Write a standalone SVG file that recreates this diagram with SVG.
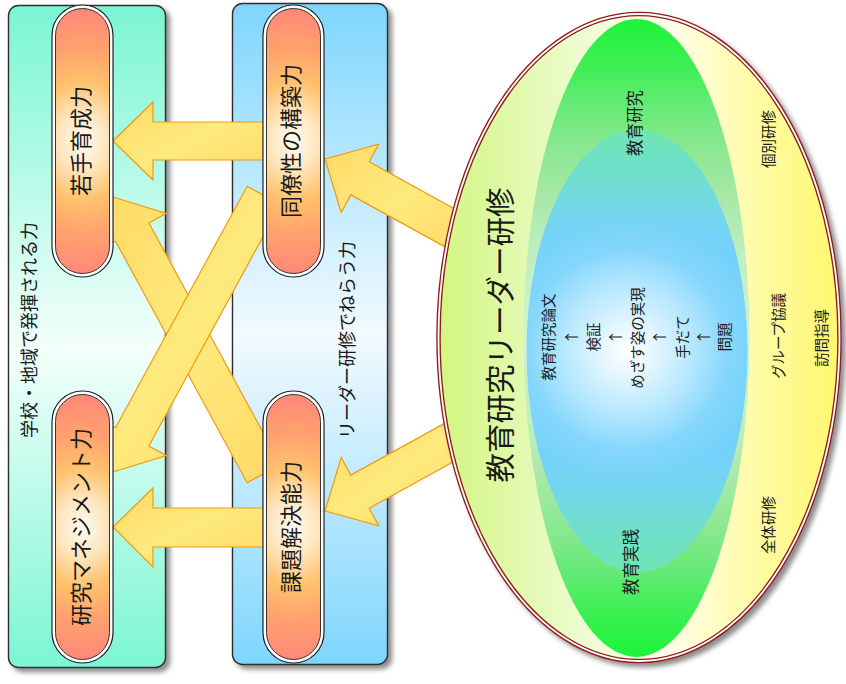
<svg xmlns="http://www.w3.org/2000/svg" width="846" height="684" viewBox="0 0 846 684">
  <defs>
    <style>
      .t { font-family: "Noto Sans CJK JP", "Noto Sans CJK SC", "DejaVu Sans", sans-serif; fill: #1a1a1a; text-anchor: middle; dominant-baseline: central; }
      .panel { stroke: #2e2e2e; stroke-width: 1.4; }
      .pill-ring { fill: #ffffff; stroke: #222; stroke-width: 1.2; }
      .pill-core { fill: url(#pillFill); stroke: #333; stroke-width: 1; }
      .arrow { fill: url(#arrowFill); stroke: #ef9a12; stroke-width: 1.2; stroke-linejoin: miter; }
    </style>

    <filter id="shadow" x="-10%" y="-10%" width="125%" height="125%">
      <feDropShadow dx="4" dy="4" stdDeviation="2.5" flood-color="#000" flood-opacity="0.45"/>
    </filter>

    <linearGradient id="schoolFill" x1="0" y1="0" x2="0" y2="1">
      <stop offset="0" stop-color="#7af6d3"/>
      <stop offset="0.52" stop-color="#f3fffb"/>
      <stop offset="1" stop-color="#7af6d3"/>
    </linearGradient>
    <linearGradient id="leaderFill" x1="0" y1="0" x2="0" y2="1">
      <stop offset="0" stop-color="#7ed6fd"/>
      <stop offset="0.5" stop-color="#f2faff"/>
      <stop offset="1" stop-color="#7ed6fd"/>
    </linearGradient>

    <radialGradient id="pillFill" cx="0.5" cy="0.5" r="0.5" gradientTransform="translate(0.5 0.5) scale(4 1) translate(-0.5 -0.5)">
      <stop offset="0" stop-color="#fffbf3"/>
      <stop offset="0.22" stop-color="#ffe6bf"/>
      <stop offset="0.45" stop-color="#ffc26c"/>
      <stop offset="0.7" stop-color="#ffa26e"/>
      <stop offset="1" stop-color="#ff8878"/>
    </radialGradient>

    <linearGradient id="arrowFill" x1="0" y1="0" x2="1" y2="1">
      <stop offset="0" stop-color="#ffd964"/>
      <stop offset="0.5" stop-color="#ffea7e"/>
      <stop offset="1" stop-color="#ffd964"/>
    </linearGradient>

    <linearGradient id="outerFill" x1="0" y1="0" x2="1" y2="0">
      <stop offset="0" stop-color="#d2f681"/>
      <stop offset="0.38" stop-color="#effcd4"/>
      <stop offset="0.55" stop-color="#fffff0"/>
      <stop offset="0.75" stop-color="#fffcb2"/>
      <stop offset="1" stop-color="#fff76e"/>
    </linearGradient>
    <linearGradient id="greenFill" x1="0" y1="0" x2="0" y2="1">
      <stop offset="0" stop-color="#1cf438"/>
      <stop offset="0.065" stop-color="#3aef50"/>
      <stop offset="0.13" stop-color="#62ea74"/>
      <stop offset="0.2" stop-color="#8ae890"/>
      <stop offset="0.28" stop-color="#a8e8a8"/>
      <stop offset="0.36" stop-color="#bdeebd"/>
      <stop offset="0.5" stop-color="#d0f4d0"/>
      <stop offset="0.64" stop-color="#bdeebd"/>
      <stop offset="0.72" stop-color="#a8e8a8"/>
      <stop offset="0.8" stop-color="#8ae890"/>
      <stop offset="0.87" stop-color="#62ea74"/>
      <stop offset="0.935" stop-color="#3aef50"/>
      <stop offset="1" stop-color="#1cf438"/>
    </linearGradient>
    <radialGradient id="blueFill" gradientUnits="userSpaceOnUse" cx="628" cy="350" r="135">
      <stop offset="0" stop-color="#ffffff"/>
      <stop offset="0.2" stop-color="#e4f6ff"/>
      <stop offset="0.5" stop-color="#b2e6ff"/>
      <stop offset="0.75" stop-color="#84d6fc"/>
      <stop offset="1" stop-color="#74d2fa"/>
    </radialGradient>
    <linearGradient id="blueTeal" x1="0" y1="0" x2="0" y2="1">
      <stop offset="0" stop-color="#6ee6b2" stop-opacity="1"/>
      <stop offset="0.12" stop-color="#6ee2c0" stop-opacity="0.7"/>
      <stop offset="0.26" stop-color="#74d8e4" stop-opacity="0"/>
      <stop offset="0.74" stop-color="#74d8e4" stop-opacity="0"/>
      <stop offset="0.88" stop-color="#6ee2c0" stop-opacity="0.7"/>
      <stop offset="1" stop-color="#6ee6b2" stop-opacity="1"/>
    </linearGradient>
  </defs>

  <!-- background panels -->
  <g id="panel-school">
    <rect class="panel" x="8.5" y="5.5" width="157" height="662" rx="10" fill="url(#schoolFill)" filter="url(#shadow)"/>
    <text class="t" font-size="18" transform="translate(27.5 330) rotate(-90)">学校・地域で発揮される力</text>
  </g>
  <g id="panel-leader">
    <rect class="panel" x="232.5" y="3.5" width="155" height="661" rx="10" fill="url(#leaderFill)" filter="url(#shadow)"/>
    <text class="t" font-size="18" transform="translate(345.5 340) rotate(-90)">リーダー研修でねらう力</text>
  </g>

  <!-- block arrows -->
  <g id="connectors">
    <polygon class="arrow" points="113,141 153,102 153,122 266,122 266,160 153,160 153,180"/>
    <polygon class="arrow" points="113,527 153,488 153,508 266,508 266,547 153,547 153,567"/>
    <polygon class="arrow" points="325,159 378.8,144.1 369.2,161.7 474.2,219.7 455.8,252.9 350.8,194.9 341.2,212.5"/>
    <polygon class="arrow" points="325,511 378.8,525.9 369.2,508.3 474.2,450.3 455.8,417.1 350.8,475.1 341.2,457.5"/>
    <polygon class="arrow" points="113,197 166.4,213.4 148.9,223 280.6,464.5 247.2,482.7 115.5,241.2 98,250.8"/>
    <polygon class="arrow" points="113,472 166.4,455.6 148.9,446 280.6,204.5 247.2,186.3 115.5,427.8 98,418.2"/>
  </g>

  <!-- ability capsules -->
  <g id="pill-wakate">
    <rect class="pill-ring" x="52" y="5" width="61" height="272" rx="30.5"/>
    <rect class="pill-core" x="55.5" y="8.5" width="54" height="265" rx="27"/>
    <text class="t" font-size="22" transform="translate(78.5 141) rotate(-90)">若手育成力</text>
  </g>
  <g id="pill-kenkyu">
    <rect class="pill-ring" x="52" y="391" width="61" height="272" rx="30.5"/>
    <rect class="pill-core" x="55.5" y="394.5" width="54" height="265" rx="27"/>
    <text class="t" font-size="22" transform="translate(78.5 527) rotate(-90)">研究マネジメント力</text>
  </g>
  <g id="pill-douryou">
    <rect class="pill-ring" x="263" y="5" width="61" height="272" rx="30.5"/>
    <rect class="pill-core" x="266.5" y="8.5" width="54" height="265" rx="27"/>
    <text class="t" font-size="22" transform="translate(289 141) rotate(-90)">同僚性の構築力</text>
  </g>
  <g id="pill-kadai">
    <rect class="pill-ring" x="263" y="391" width="61" height="272" rx="30.5"/>
    <rect class="pill-core" x="266.5" y="394.5" width="54" height="265" rx="27"/>
    <text class="t" font-size="22" transform="translate(289 527) rotate(-90)">課題解決能力</text>
  </g>

  <!-- training programme ellipse -->
  <g id="training">
    <ellipse cx="639" cy="337.5" rx="200.5" ry="323.5" fill="url(#outerFill)" stroke="#8e1b16" stroke-width="4.5" filter="url(#shadow)"/>
    <ellipse cx="639" cy="337.5" rx="200.5" ry="323.5" fill="none" stroke="#ffffff" stroke-width="1.8"/>
    <ellipse cx="636.5" cy="338" rx="113" ry="319" fill="url(#greenFill)"/>
    <ellipse cx="637" cy="351" rx="110.5" ry="221" fill="url(#blueFill)"/>
    <ellipse cx="637" cy="351" rx="110.5" ry="221" fill="url(#blueTeal)"/>

    <text class="t" font-size="29.5" transform="translate(498 335) rotate(-90)">教育研究リーダー研修</text>
    <text class="t" font-size="16.5" transform="translate(634 123) rotate(-90)">教育研究</text>
    <text class="t" font-size="16.5" transform="translate(630 562) rotate(-90)">教育実践</text>
    <text class="t" font-size="14.5" transform="translate(767 139) rotate(-90)">個別研修</text>
    <text class="t" font-size="14.5" transform="translate(767 525) rotate(-90)">全体研修</text>
    <text class="t" font-size="14.5" transform="translate(777 336) rotate(-90)">グループ協議</text>
    <text class="t" font-size="14.5" transform="translate(820 338) rotate(-90)">訪問指導</text>

    <text class="t" font-size="14.5" transform="translate(547.5 337) rotate(-90)">教育研究論文</text>
    <text class="t" font-size="14.5" transform="translate(570 337) rotate(-90)">↑</text>
    <text class="t" font-size="14.5" transform="translate(592 337) rotate(-90)">検証</text>
    <text class="t" font-size="14.5" transform="translate(614.5 337) rotate(-90)">↑</text>
    <text class="t" font-size="14.5" transform="translate(636 338) rotate(-90)">めざす姿の実現</text>
    <text class="t" font-size="14.5" transform="translate(658.5 337) rotate(-90)">↑</text>
    <text class="t" font-size="14.5" transform="translate(681 337) rotate(-90)">手だて</text>
    <text class="t" font-size="14.5" transform="translate(702 337) rotate(-90)">↑</text>
    <text class="t" font-size="14.5" transform="translate(723 337) rotate(-90)">問題</text>
  </g>
</svg>
